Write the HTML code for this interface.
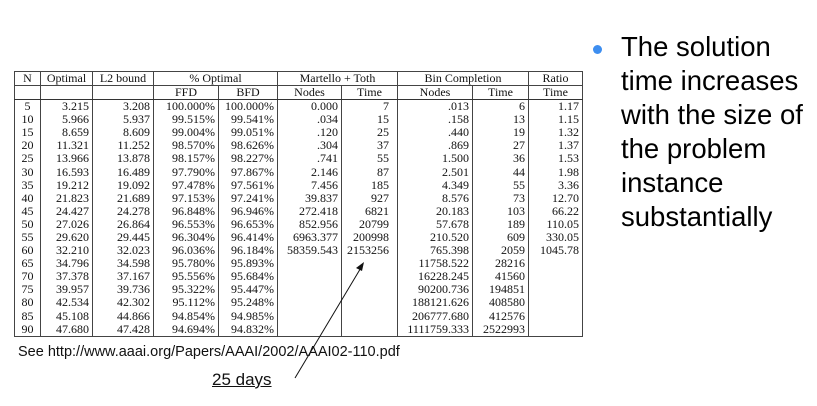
<!DOCTYPE html>
<html><head><meta charset="utf-8"><style>
body{margin:0;width:817px;height:406px;background:#fff;position:relative;overflow:hidden;font-family:"Liberation Serif",serif}
table{position:absolute;left:14px;top:71px;border-collapse:collapse;table-layout:fixed;font-size:12px;color:#111}
td{border-left:1px solid #444;border-right:1px solid #444;padding:0 3px;height:13.1px;line-height:13px;text-align:right;white-space:nowrap;overflow:hidden}
tr.h td{text-align:center;height:12.5px;border-top:1px solid #444;border-bottom:1px solid #444}
tr.h2 td{border-bottom:1.5px solid #333}
tr.last td{border-bottom:1px solid #444}
.sans{font-family:"Liberation Sans",sans-serif;position:absolute;color:#111}
</style></head><body>
<table>
<colgroup><col style="width:26px"><col style="width:52px"><col style="width:61px"><col style="width:65px"><col style="width:59px"><col style="width:64px"><col style="width:56px"><col style="width:75px"><col style="width:56px"><col style="width:54px"></colgroup>
<tr class="h"><td>N</td><td>Optimal</td><td>L2 bound</td><td colspan="2">% Optimal</td><td colspan="2">Martello + Toth</td><td colspan="2">Bin Completion</td><td>Ratio</td></tr>
<tr class="h h2"><td></td><td></td><td></td><td>FFD</td><td>BFD</td><td>Nodes</td><td>Time</td><td>Nodes</td><td>Time</td><td>Time</td></tr>
<tbody id="tb"></tbody>
</table>
<script>
const rows=[
["5","3.215","3.208","100.000%","100.000%","0.000","7",".013","6","1.17"],
["10","5.966","5.937","99.515%","99.541%",".034","15",".158","13","1.15"],
["15","8.659","8.609","99.004%","99.051%",".120","25",".440","19","1.32"],
["20","11.321","11.252","98.570%","98.626%",".304","37",".869","27","1.37"],
["25","13.966","13.878","98.157%","98.227%",".741","55","1.500","36","1.53"],
["30","16.593","16.489","97.790%","97.867%","2.146","87","2.501","44","1.98"],
["35","19.212","19.092","97.478%","97.561%","7.456","185","4.349","55","3.36"],
["40","21.823","21.689","97.153%","97.241%","39.837","927","8.576","73","12.70"],
["45","24.427","24.278","96.848%","96.946%","272.418","6821","20.183","103","66.22"],
["50","27.026","26.864","96.553%","96.653%","852.956","20799","57.678","189","110.05"],
["55","29.620","29.445","96.304%","96.414%","6963.377","200998","210.520","609","330.05"],
["60","32.210","32.023","96.036%","96.184%","58359.543","2153256","765.398","2059","1045.78"],
["65","34.796","34.598","95.780%","95.893%","","","11758.522","28216",""],
["70","37.378","37.167","95.556%","95.684%","","","16228.245","41560",""],
["75","39.957","39.736","95.322%","95.447%","","","90200.736","194851",""],
["80","42.534","42.302","95.112%","95.248%","","","188121.626","408580",""],
["85","45.108","44.866","94.854%","94.985%","","","206777.680","412576",""],
["90","47.680","47.428","94.694%","94.832%","","","1111759.333","2522993",""]];
const tb=document.getElementById('tb');
rows.forEach((r,i)=>{const tr=document.createElement('tr');


if(i===rows.length-1)tr.className='last';
r.forEach((v,j)=>{const td=document.createElement('td');td.textContent=v;
if(j===0)td.style.textAlign='center';
if(j===6)td.style.paddingRight='8px';
tr.appendChild(td);});tb.appendChild(tr);});
</script>
<div class="sans" style="left:18px;top:344px;font-size:14.5px">See http://www.aaai.org/Papers/AAAI/2002/AAAI02-110.pdf</div>
<div class="sans" style="left:212px;top:370px;font-size:17px;text-decoration:underline">25 days</div>
<svg style="position:absolute;left:0;top:0" width="817" height="406">
<line x1="295" y1="378" x2="362" y2="266" stroke="#111" stroke-width="1"/>
<polygon points="364,262 356,268 362,271" fill="#111"/>
</svg>
<div style="position:absolute;left:593px;top:45px;width:9px;height:9px;border-radius:50%;background:#3d8ef0"></div>
<div class="sans" style="left:621px;top:30px;font-size:27.5px;line-height:34px;color:#000">The solution<br>time increases<br>with the size of<br>the problem<br>instance<br>substantially</div>
</body></html>
